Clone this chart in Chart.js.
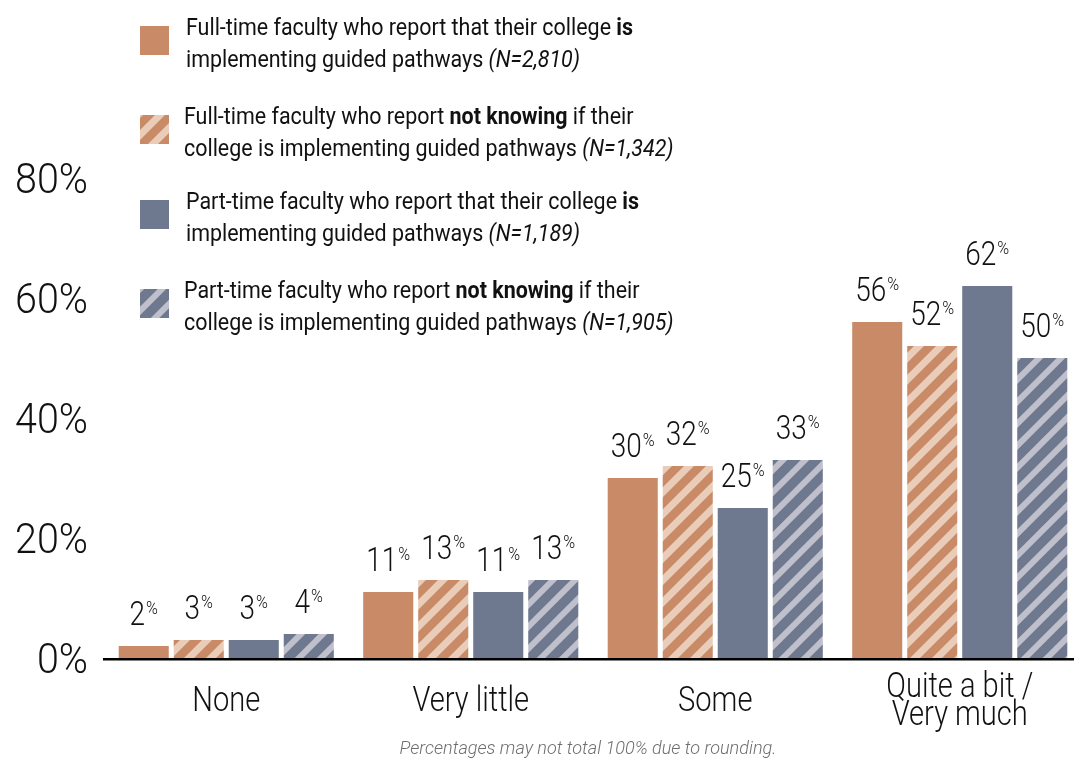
<!DOCTYPE html>
<html><head><meta charset="utf-8">
<script src="https://cdn.jsdelivr.net/npm/chart.js@4"></script>
<style>
html,body{margin:0;padding:0;background:#fff;overflow:hidden;}
#wrap{position:relative;width:1082px;height:758px;}
canvas{display:block;}
</style></head><body>
<div id="wrap"><canvas id="c" width="1082" height="758" style="width:1082px;height:758px"></canvas></div>
<script>
// ---- data ----
const categories = [["None"], ["Very little"], ["Some"], ["Quite a bit /", "Very much"]];
const ftIs      = [2, 11, 30, 56];
const ftNotKnow = [3, 13, 32, 52];
const ptIs      = [3, 11, 25, 62];
const ptNotKnow = [4, 13, 33, 50];
const yTicks = [0, 20, 40, 60, 80];
const legendLabels = [
  [[["Full-time faculty who report that their college ", 0], ["is", 1]],
   [["implementing guided pathways ", 0], ["(N=2,810)", 2]]],
  [[["Full-time faculty who report ", 0], ["not knowing", 1], [" if their", 0]],
   [["college is implementing guided pathways ", 0], ["(N=1,342)", 2]]],
  [[["Part-time faculty who report that their college ", 0], ["is", 1]],
   [["implementing guided pathways ", 0], ["(N=1,189)", 2]]],
  [[["Part-time faculty who report ", 0], ["not knowing", 1], [" if their", 0]],
   [["college is implementing guided pathways ", 0], ["(N=1,905)", 2]]]
];
const footnote = "Percentages may not total 100% due to rounding.";

// ---- styles ----
const ORANGE = '#C98A67', ORANGE_L = '#E9CDB9';
const SLATE = '#6E788E', SLATE_L = '#BFC0CC';

function hatch(bg, fg, lw) {
  const s = 22;
  const c = document.createElement('canvas');
  c.width = s; c.height = s;
  const x = c.getContext('2d');
  x.fillStyle = bg; x.fillRect(0, 0, s, s);
  x.strokeStyle = fg; x.lineWidth = lw; x.lineCap = 'butt';
  for (let k = -1; k <= 1; k++) {
    x.beginPath();
    x.moveTo(k * s - 4, s + 4);
    x.lineTo(k * s + s + 4, -4);
    x.stroke();
  }
  return document.getElementById('c').getContext('2d').createPattern(c, 'repeat');
}
const fills = [ORANGE, hatch(ORANGE_L, ORANGE, 8.5), SLATE, hatch(SLATE_L, SLATE, 9.5)];
const seriesData = [ftIs, ftNotKnow, ptIs, ptNotKnow];

function scaledText(ctx, text, x, y, font, sx, align) {
  ctx.save();
  ctx.font = font;
  const w = ctx.measureText(text).width * sx;
  let left = x;
  if (align === 'center') left = x - w / 2;
  else if (align === 'right') left = x - w;
  ctx.translate(left, y);
  ctx.scale(sx, 1);
  ctx.textAlign = 'left';
  ctx.textBaseline = 'alphabetic';
  ctx.fillText(text, 0, 0);
  ctx.restore();
  return w;
}
function fitScale(ctx, text, font, target) {
  ctx.save(); ctx.font = font;
  const w = ctx.measureText(text).width;
  ctx.restore();
  return target / w;
}

const FONT = 'Roboto, "Liberation Sans", sans-serif';
const overlay = {
  id: 'overlay',
  afterDraw(chart) {
    const ctx = chart.ctx;
    const xs = chart.scales.x, ys = chart.scales.y;
    const area = chart.chartArea;
    ctx.save();
    // axis line
    ctx.fillStyle = '#000';
    ctx.fillRect(area.left - 1, ys.getPixelForValue(0), chart.width, 2.5);

    // y tick labels
    const tickFont = '300 43px ' + FONT;
    const tickSx = fitScale(ctx, '80%', tickFont, 73);
    ctx.fillStyle = '#111';
    yTicks.forEach(v => {
      scaledText(ctx, v + '%', 88, ys.getPixelForValue(v) + 15, tickFont, tickSx, 'right');
    });

    // data labels
    const numFont = '300 33px ' + FONT;
    const pctFont = '300 19px ' + FONT;
    const numSx = fitScale(ctx, '30', numFont, 31);
    chart.data.datasets.forEach((ds, di) => {
      const meta = chart.getDatasetMeta(di);
      meta.data.forEach((bar, i) => {
        const v = ds.data[i];
        const t = String(v);
        ctx.save(); ctx.font = numFont; const wn = ctx.measureText(t).width * numSx;
        ctx.font = pctFont; const wp = ctx.measureText('%').width * numSx; ctx.restore();
        const gap = 1;
        const total = wn + gap + wp;
        const left = bar.x - total / 2;
        const base = bar.y - 21.5;
        scaledText(ctx, t, left, base, numFont, numSx, 'left');
        scaledText(ctx, '%', left + wn + gap, base - 11, pctFont, numSx, 'left');
      });
    });

    // category labels
    const catFont = '300 35px ' + FONT;
    const catSx = fitScale(ctx, 'None', catFont, 68);
    categories.forEach((lines, i) => {
      const cx = xs.getPixelForValue(i);
      const n = lines.length;
      lines.forEach((ln, j) => {
        const b = 711 - (n - 1) * 14.5 + j * 28;
        scaledText(ctx, ln, cx, b, catFont, catSx, 'center');
      });
    });

    // footnote
    ctx.fillStyle = '#6e6e6e';
    const footFont = 'italic 300 19px ' + FONT;
    const footSx = fitScale(ctx, footnote, footFont, 377);
    scaledText(ctx, footnote, 588, 754, footFont, footSx, 'center');

    // legend
    const lf = ['400 24px ' + FONT, '700 24px ' + FONT, 'italic 400 24px ' + FONT];
    ctx.save(); let w1 = 0;
    legendLabels[0][0].forEach(seg => { ctx.font = lf[seg[1]]; w1 += ctx.measureText(seg[0]).width; });
    ctx.restore();
    const legSx = 447 / w1;
    const itemTop = [26, 115, 200, 289];
    const textX = [186, 184, 186, 184];
    legendLabels.forEach((item, k) => {
      ctx.fillStyle = fills[k];
      ctx.fillRect(140, itemTop[k], 29, 29);
      ctx.fillStyle = '#111';
      item.forEach((line, j) => {
        let x = textX[k];
        const b = itemTop[k] + 9 + j * 31.5;
        line.forEach(seg => {
          x += scaledText(ctx, seg[0], x, b, lf[seg[1]], legSx, 'left');
        });
      });
    });
    ctx.restore();
  }
};

new Chart(document.getElementById('c'), {
  type: 'bar',
  data: {
    labels: categories.map(c => c.join(' ')),
    datasets: seriesData.map((d, i) => ({
      data: d,
      backgroundColor: fills[i],
      borderWidth: 0,
      categoryPercentage: 0.9,
      barPercentage: 0.91
    }))
  },
  options: {
    responsive: false,
    animation: false,
    layout: { padding: { left: 104, right: 0, top: 178, bottom: 100 } },
    plugins: { legend: { display: false }, tooltip: { enabled: false } },
    scales: {
      x: { display: false },
      y: { display: false, min: 0, max: 80 }
    }
  },
  plugins: [overlay]
});
</script>
</body></html>
